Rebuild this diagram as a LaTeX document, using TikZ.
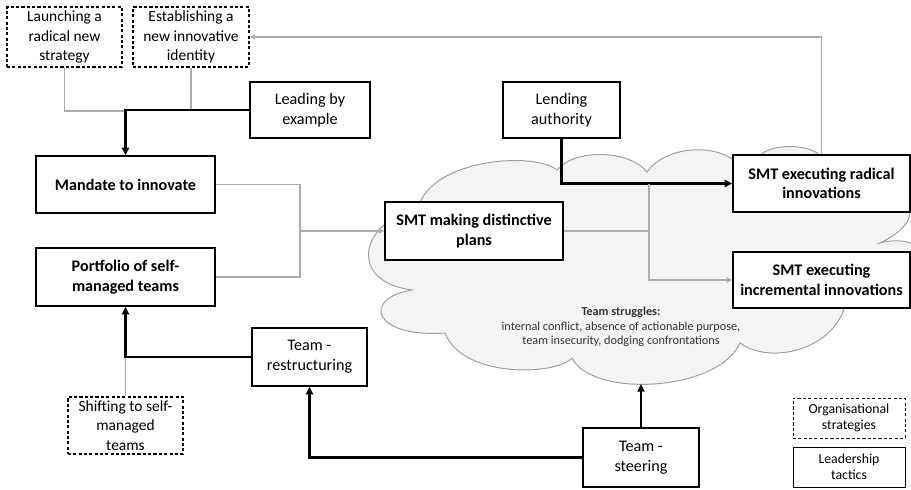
\documentclass[tikz,border=0pt]{standalone}
\usepackage{fontspec}
\setmainfont{Carlito}
\usetikzlibrary{arrows.meta}

\begin{document}
\begin{tikzpicture}[x=0.025cm,y=-0.025cm,
  box/.style={draw,fill=white,line width=0.9pt,align=center,inner sep=1pt,
    font=\fontsize{11.5}{14}\selectfont},
  stratbox/.style={box,dash pattern=on 2.2pt off 1.6pt,line width=0.8pt,
    font=\fontsize{11}{13.8}\selectfont},
  keybox/.style={box,line width=0.7pt,font=\fontsize{9.8}{11.5}\selectfont},
  tactic/.style={line width=1.8pt},
  tacticarrow/.style={tactic,-{Triangle[length=5.5pt,width=5pt]}},
  link/.style={draw=gray!65,line width=0.8pt},
  linkarrow/.style={link,-{Triangle[length=4pt,width=3.5pt]}}]

\useasboundingbox (0,0) rectangle (911,489);

% struggle cloud
\begin{scope}
\clip (0,0) rectangle (911,489);
\draw[draw=gray!75,fill=gray!9,line width=0.7pt]
  (400,215) .. controls (360,232) and (352,282) .. (412,290)
  .. controls (362,298) and (372,338) .. (445,333)
  .. controls (462,378) and (555,376) .. (572,358)
  .. controls (592,398) and (718,392) .. (740,343)
  .. controls (772,366) and (835,348) .. (845,305)
  .. controls (940,320) and (950,225) .. (880,243)
  .. controls (902,233) and (918,215) .. (905,205)
  .. controls (890,170) and (840,160) .. (822,157)
  .. controls (810,143) and (770,143) .. (758,157)
  -- (736,162)
  .. controls (715,143) and (665,146) .. (647,172)
  .. controls (630,150) and (575,148) .. (557,170)
  .. controls (535,152) and (440,158) .. (420,202)
  -- cycle;
\end{scope}
\node[font=\fontsize{8.7}{10.4}\selectfont,align=center,text=black!80] (struggles) at (621,327)
  {\textbf{Team struggles:}\\internal conflict, absence of actionable purpose,\\team insecurity,  dodging confrontations};

% organisational strategies
\node[stratbox,minimum width=2.875cm,minimum height=1.5cm] (launch) at (64.5,37) {Launching a\\radical new\\strategy};
\node[stratbox,minimum width=2.9cm,minimum height=1.5cm] (establish) at (191,37) {Establishing a\\new innovative\\identity};
\node[stratbox,minimum width=2.875cm,minimum height=1.425cm] (shifting) at (125.5,425.5) {Shifting to self-\\managed\\teams};

% leadership tactics
\node[box,minimum width=3cm,minimum height=1.4cm] (leading) at (310,110) {Leading by\\example};
\node[box,minimum width=2.925cm,minimum height=1.4cm] (lending) at (561.5,110) {Lending\\authority};
\node[box,minimum width=2.875cm,minimum height=1.45cm] (restructuring) at (309.5,357) {Team -\\restructuring};
\node[box,minimum width=2.9cm,minimum height=1.475cm] (steering) at (641,457.5) {Team -\\steering};

% outcomes
\node[box,font=\fontsize{11.5}{14}\selectfont\bfseries,minimum width=4.475cm,minimum height=1.425cm] (mandate) at (125.5,184.5) {Mandate to innovate};
\node[box,font=\fontsize{11.5}{14}\selectfont\bfseries,minimum width=4.475cm,minimum height=1.45cm] (portfolio) at (125.5,277) {Portfolio of self-\\managed teams};
\node[box,font=\fontsize{11.5}{14}\selectfont\bfseries,minimum width=4.45cm,minimum height=1.45cm] (plans) at (474,231) {SMT making distinctive\\plans};
\node[box,font=\fontsize{11.5}{14}\selectfont\bfseries,minimum width=4.425cm,minimum height=1.425cm] (radical) at (821.5,183.5) {SMT executing radical\\innovations};
\node[box,font=\fontsize{11.5}{14}\selectfont\bfseries,minimum width=4.425cm,minimum height=1.4cm] (incremental) at (821.5,280) {SMT executing\\incremental innovations};

% key
\node[keybox,dash pattern=on 2.2pt off 1.6pt,minimum width=2.8cm,minimum height=1cm] (keystrat) at (849,418) {Organisational\\strategies};
\node[keybox,minimum width=2.8cm,minimum height=1cm] (keytact) at (849,467) {Leadership\\tactics};

% junctions
\coordinate (topjoin) at (125.5,111);
\coordinate (leftjoin) at (300,231);
\coordinate (midjoin) at (649,231);
\coordinate (cloudbase) at (641,384);

% connectors
\draw[link] (launch.south) |- (topjoin);
\draw[link] (establish.south) -- (establish.south |- topjoin);
\draw[tacticarrow] (leading.west) -| (mandate.north);
\draw[linkarrow] (radical.north) |- (establish.east);
\draw[link] (mandate.east) -| (leftjoin);
\draw[link] (portfolio.east) -| (leftjoin);
\draw[linkarrow] (leftjoin) -- (plans.west);
\draw[tacticarrow] (lending.south) |- (radical.west);
\draw[link] (plans.east) -- (midjoin) -- (midjoin |- radical.west);
\draw[linkarrow] (midjoin) |- (incremental.west);
\draw[link] (shifting.north) -- (shifting.north |- restructuring.west);
\draw[tacticarrow] (restructuring.west) -| (portfolio.south);
\draw[tacticarrow] (steering.west) -| (restructuring.south);
\draw[tacticarrow] (steering.north) -- (cloudbase);
\end{tikzpicture}
\end{document}
